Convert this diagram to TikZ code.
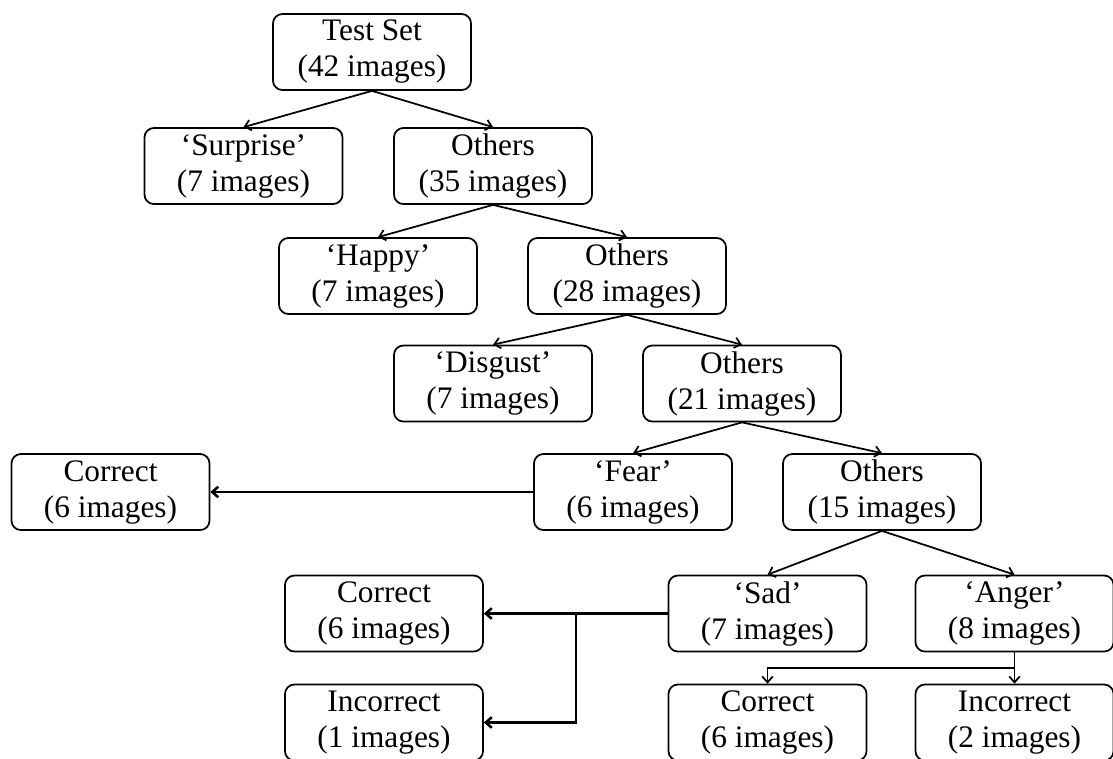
\documentclass[tikz,border=0pt]{standalone}
\usepackage{fontspec}
\setmainfont{Liberation Serif}
\usetikzlibrary{arrows.meta}
\begin{document}
\begin{tikzpicture}[x=0.75pt,y=-0.75pt,
box/.style={draw,line width=1.3pt,rounded corners=7pt,align=center,minimum width=148.5pt,minimum height=57pt,inner sep=0pt,font=\fontsize{23.5}{27}\selectfont},
arr/.style={-{Straight Barb[length=4.5pt,width=8pt]},line width=1.3pt},
heavyarr/.style={arr,line width=1.9pt}]
\clip (0,0) rectangle (1113,758);
\node[box] (test) at (372,52) {Test Set\\(42 images)};
\node[box] (surprise) at (243.5,166) {‘Surprise’\\(7 images)};
\node[box] (others1) at (493,166) {Others\\(35 images)};
\node[box] (happy) at (378,276) {‘Happy’\\(7 images)};
\node[box] (others2) at (627,276) {Others\\(28 images)};
\node[box] (disgust) at (493,383.5) {‘Disgust’\\(7 images)};
\node[box] (others3) at (742,383.5) {Others\\(21 images)};
\node[box] (fearcorrect) at (110.5,492) {Correct\\(6 images)};
\node[box] (fear) at (633,492) {‘Fear’\\(6 images)};
\node[box] (others4) at (882,492) {Others\\(15 images)};
\node[box] (sadcorrect) at (384,613.5) {Correct\\(6 images)};
\node[box] (sad) at (767.5,613.5) {‘Sad’\\(7 images)};
\node[box] (anger) at (1014.5,613.5) {‘Anger’\\(8 images)};
\node[box] (sadincorrect) at (384,722.5) {Incorrect\\(1 images)};
\node[box] (angercorrect) at (767.5,722.5) {Correct\\(6 images)};
\node[box] (angerincorrect) at (1014.5,722.5) {Incorrect\\(2 images)};
\coordinate (sadfork) at (576,613.5);
\coordinate (angerfork) at (1014.5,668);
\draw[arr] (test.south) -- (surprise.north);
\draw[arr] (test.south) -- (others1.north);
\draw[arr] (others1.south) -- (happy.north);
\draw[arr] (others1.south) -- (others2.north);
\draw[arr] (others2.south) -- (disgust.north);
\draw[arr] (others2.south) -- (others3.north);
\draw[arr] (others3.south) -- (fear.north);
\draw[arr] (others3.south) -- (others4.north);
\draw[arr] (others4.south) -- (sad.north);
\draw[arr] (others4.south) -- (anger.north);
\draw[heavyarr] (fear.west) -- (fearcorrect.east);
\draw[heavyarr] (sad.west) -- (sadcorrect.east);
\draw[heavyarr] (sadfork) |- (sadincorrect.east);
\draw[arr] (anger.south) -- (angerincorrect.north);
\draw[arr] (angerfork) -| (angercorrect.north);
\end{tikzpicture}
\end{document}
